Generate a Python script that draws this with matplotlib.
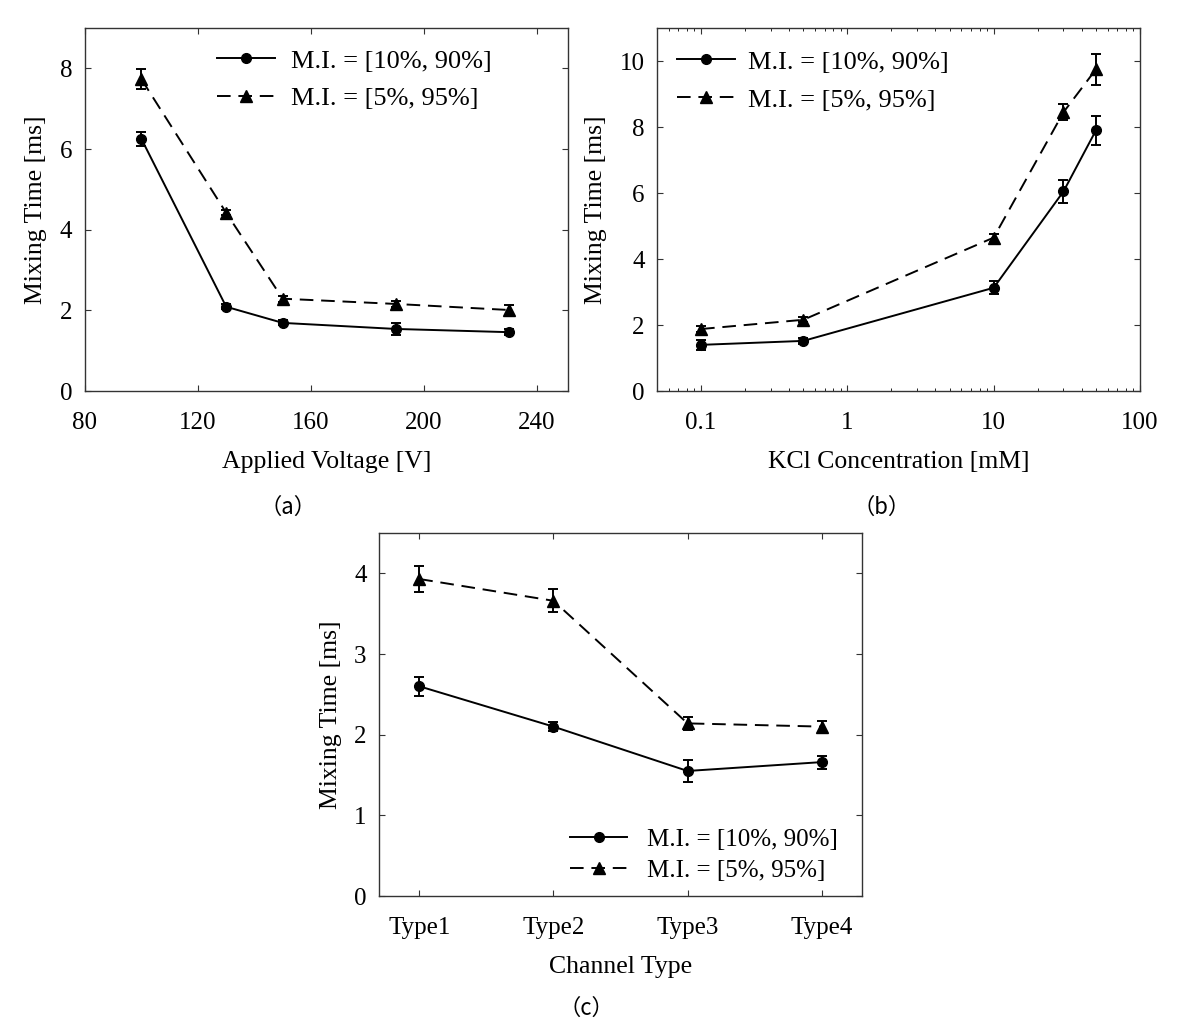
import matplotlib
matplotlib.use("Agg")
import matplotlib.pyplot as plt
from matplotlib.lines import Line2D
import numpy as np

plt.rcParams['font.family'] = ['Liberation Serif', 'DejaVu Serif']

# Panel (a)
voltage = [100, 130, 150, 190, 230]
a_mi10 = [6.25, 2.09, 1.69, 1.54, 1.46]
a_mi10_err = [0.18, 0.06, 0.06, 0.15, 0.08]
a_mi5 = [7.73, 4.42, 2.29, 2.16, 2.01]
a_mi5_err = [0.25, 0.06, 0.07, 0.08, 0.12]

# Panel (b)
kcl = [0.1, 0.5, 10, 30, 50]
b_mi10 = [1.40, 1.52, 3.13, 6.05, 7.90]
b_mi10_err = [0.15, 0.10, 0.20, 0.35, 0.45]
b_mi5 = [1.88, 2.16, 4.65, 8.45, 9.75]
b_mi5_err = [0.10, 0.08, 0.12, 0.25, 0.47]

# Panel (c)
channel_types = ['Type1', 'Type2', 'Type3', 'Type4']
c_mi10 = [2.60, 2.10, 1.55, 1.66]
c_mi10_err = [0.12, 0.06, 0.14, 0.08]
c_mi5 = [3.93, 3.66, 2.14, 2.10]
c_mi5_err = [0.16, 0.14, 0.08, 0.07]

labels = ['M.I. = [10%, 90%]', 'M.I. = [5%, 95%]']

fig = plt.figure(figsize=(11.8, 10.28), dpi=100)

TICK_FS = 18
LAB_FS = 18.5
LW = 1.4
DASH = (0, (7, 4))

def style(ax):
    ax.tick_params(direction='in', top=True, right=True, length=4, width=0.8,
                   labelsize=TICK_FS, color='#333333')
    ax.tick_params(axis='x', pad=15)
    ax.tick_params(axis='y', pad=9)
    ax.tick_params(which='minor', direction='in', top=True, right=True, length=2.5, width=0.6)
    for s in ax.spines.values():
        s.set_linewidth(1.0)
        s.set_color('#333333')

def plot_series(ax, x, y1, e1, y2, e2):
    ax.errorbar(x, y1, yerr=e1, color='black', lw=LW, marker='o', ms=7,
                capsize=3.6, capthick=LW, elinewidth=LW)
    ax.errorbar(x, y2, yerr=e2, color='black', lw=LW, marker='^', ms=8.5,
                capsize=3.6, capthick=LW, elinewidth=LW, ls=DASH)

def handles():
    return [Line2D([], [], color='black', lw=LW, marker='o', ms=7),
            Line2D([], [], color='black', lw=LW, marker='^', ms=8.5, ls=DASH)]

# (a)
axa = fig.add_axes([0.0720, 0.6196, 0.4093, 0.3531])
plot_series(axa, voltage, a_mi10, a_mi10_err, a_mi5, a_mi5_err)
axa.set_xlim(80, 251)
axa.set_ylim(0, 9)
axa.set_xticks([80, 120, 160, 200, 240])
axa.set_yticks([0, 2, 4, 6, 8])
axa.set_xlabel('Applied Voltage [V]', fontsize=LAB_FS, labelpad=12)
axa.set_ylabel('Mixing Time [ms]', fontsize=LAB_FS, labelpad=9)
style(axa)
axa.legend(handles(), labels, loc='upper left', bbox_to_anchor=(0.273, 0.942),
           frameon=False, fontsize=19, handlelength=2.2, handletextpad=0.6,
           labelspacing=0.53, borderpad=0, borderaxespad=0)

# (b)
axb = fig.add_axes([0.5568, 0.6196, 0.4093, 0.3531])
plot_series(axb, kcl, b_mi10, b_mi10_err, b_mi5, b_mi5_err)
axb.set_xscale('log')
axb.set_xlim(0.05, 100)
axb.set_ylim(0, 11)
axb.set_xticks([0.1, 1, 10, 100])
axb.set_xticklabels(['0.1', '1', '10', '100'])
axb.set_yticks([0, 2, 4, 6, 8, 10])
axb.set_xlabel('KCl Concentration [mM]', fontsize=LAB_FS, labelpad=12)
axb.set_ylabel('Mixing Time [ms]', fontsize=LAB_FS, labelpad=9)
style(axb)
axb.legend(handles(), labels, loc='upper left', bbox_to_anchor=(0.041, 0.939),
           frameon=False, fontsize=19, handlelength=2.2, handletextpad=0.5,
           labelspacing=0.55, borderpad=0, borderaxespad=0)

# (c)
axc = fig.add_axes([0.3212, 0.1284, 0.4093, 0.3531])
xc = np.arange(len(channel_types))
plot_series(axc, xc, c_mi10, c_mi10_err, c_mi5, c_mi5_err)
axc.set_xlim(-0.3, 3.3)
axc.set_ylim(0, 4.5)
axc.set_xticks(xc)
axc.set_xticklabels(channel_types)
axc.set_yticks([0, 1, 2, 3, 4])
axc.set_xlabel('Channel Type', fontsize=LAB_FS, labelpad=12)
axc.set_ylabel('Mixing Time [ms]', fontsize=LAB_FS, labelpad=9)
style(axc)
axc.legend(handles(), labels, loc='upper left', bbox_to_anchor=(0.395, 0.187),
           frameon=False, fontsize=18, handlelength=2.3, handletextpad=0.8,
           labelspacing=0.34, borderpad=0, borderaxespad=0)

# panel letters
cap = dict(fontsize=16, ha='center', va='center',
           family=['Noto Sans CJK SC', 'DejaVu Sans'])
fig.text(288/1180, 1 - 507/1028, '（a）', **cap)
fig.text(882/1180, 1 - 507/1028, '（b）', **cap)
fig.text(586/1180, 1 - 1008/1028, '（c）', **cap)

fig.savefig('out.png', dpi=100)
